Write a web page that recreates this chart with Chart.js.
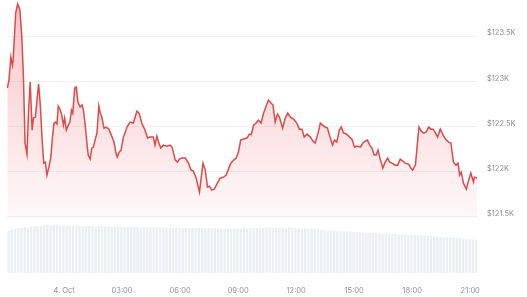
<!DOCTYPE html>
<html>
<head>
<meta charset="utf-8">
<script src="https://cdn.jsdelivr.net/npm/chart.js@4"></script>
<style>
  body { margin: 0; background: #fff; }
  #box { width: 527px; height: 297px; }
</style>
</head>
<body>
<div id="box"><canvas id="grafico"></canvas></div>
<script>
// minutos a partir de 4. Oct 00:00
const precoMinutos = [-176,-171,-165,-160,-158,-150,-144,-137,-131,-126,-121,-115,-110,-105,-99,-95,-89,-84,-79,-74,
  -68,-63,-58,-53,-47,-41,-36,-31,-26,-22,-18,-12,-7,-2,2,7,12,18,23,27,
  33,38,43,50,56,60,65,70,75,81,86,91,96,102,108,112,117,124,130,138,
  143,149,155,161,165,171,177,184,189,195,205,215,226,233,241,251,259,267,277,282,
  288,293,300,308,319,329,335,345,352,358,365,376,386,394,401,410,420,431,438,445,
  451,458,466,474,484,495,503,510,517,526,534,541,548,557,567,575,581,588,596,603,
  611,619,626,634,642,648,655,662,668,678,686,694,702,712,722,730,738,745,754,764,
  772,779,788,795,802,810,817,826,833,839,846,854,860,867,875,886,893,901,908,919,
  927,934,941,948,955,962,968,974,979,989,996,1004,1010,1017,1027,1035,1043,1051,1058,1069,
  1074,1081,1090,1095,1101,1108,1115,1123,1131,1138,1145,1152,1159,1167,1176,1183,1193,1200,1208,1216,
  1222,1227,1232,1239,1248,1255,1262,1270,1273,1281];

const precos = [122925,123013,123268,123179,123235,123754,123854,123788,123489,123047,122317,122195,122682,122991,122460,122593,122604,122792,122969,122759,
  122350,122095,122106,121963,122051,122162,122383,122538,122549,122527,122726,122682,122626,122516,122593,122460,122505,122549,122682,122648,
  122925,122936,122770,122715,122737,122682,122538,122350,122184,122140,122261,122272,122350,122427,122726,122648,122604,122482,122490,122478,
  122438,122383,122328,122206,122162,122217,122239,122383,122427,122494,122549,122538,122670,122648,122538,122460,122372,122383,122383,122294,
  122394,122328,122261,122294,122283,122294,122272,122129,122106,122140,122151,122151,122095,122018,122007,121929,121775,122095,122018,121830,
  121841,121797,121808,121863,121929,121940,121963,122029,122095,122129,122151,122217,122350,122361,122372,122416,122410,122516,122538,122571,
  122538,122648,122715,122792,122759,122737,122549,122637,122604,122482,122593,122648,122604,122582,122538,122471,122471,122383,122416,122383,
  122339,122317,122427,122538,122516,122494,122482,122372,122294,122350,122328,122460,122494,122427,122420,122383,122361,122272,122283,122272,
  122317,122339,122350,122294,122261,122184,122184,122239,122162,122040,122106,122151,122106,122095,122073,122073,122140,122118,122095,122084,
  122051,122018,122073,122272,122494,122449,122427,122438,122494,122471,122471,122427,122383,122471,122405,122361,122328,122317,122106,122073,
  122095,121963,121996,121874,121808,121907,121985,121885,121940,121929];

// volume a cada 10 minutos, começando em 21:08 do dia anterior
const volumeInicio = -172;
const volumePasso = 10;
const volumes = [42,43,44,45,45.5,46,46,46.5,47,47,
  47,47.5,48,47.5,48,48,47.5,47.5,47,47.5,
  47,47.5,47,47,46.5,47,47,46.5,47,46.5,
  46.5,46.5,46,46.5,46.5,46,46,46.5,46,46,
  46,45.5,46,46,45.5,45.5,46,45.5,45.5,45.5,
  45.5,45,45.5,45.5,45,45,45.5,45,45,45,
  45,44.5,45,44.5,44.5,45,44.5,44.5,44.5,44.5,
  44.5,44.5,44.5,45,44.5,45,45,45,45.5,45,
  45.5,45.5,45,45.5,45.5,45.5,45,45.5,45.5,45,
  45,44.5,44.5,44,44,43.5,43.5,43,43,42.5,
  42.5,42.5,42,42,41.5,41.5,41.5,41,41,41,
  40.5,40.5,40,40,40,39.5,39.5,39.5,39,39,
  39,38.5,38.5,38.5,38,38,38,38,37.5,37.5,
  37.5,37,37,36.5,36.5,36,36,35.5,35.5,35,
  35,34.5,34,34,33.5,33];

const ticksPreco = [121500, 122000, 122500, 123000, 123500];
const ticksHora = [0, 180, 360, 540, 720, 900, 1080, 1260];

const pontosPreco = precoMinutos.map((m, i) => ({ x: m, y: precos[i] }));
const pontosVolume = volumes.map((v, i) => ({ x: volumeInicio + i * volumePasso, y: v }));

function formataHora(m) {
  if (m === 0) return '4. Oct';
  const h = Math.floor(m / 60);
  return String(h).padStart(2, '0') + ':00';
}

function gradiente(ctx) {
  const chart = ctx.chart;
  const area = chart.chartArea;
  if (!area) return 'rgba(234,57,67,0.1)';
  const base = chart.scales.y.getPixelForValue(121500);
  const g = chart.ctx.createLinearGradient(0, area.top, 0, base);
  g.addColorStop(0, 'rgba(234,57,67,0.30)');
  g.addColorStop(1, 'rgba(234,57,67,0.03)');
  return g;
}

// tira o espaço extra que o Chart.js reserva para os rótulos
function semPadding(s) {
  s.paddingLeft = 0;
  s.paddingRight = 0;
  s.paddingTop = 0;
  s.paddingBottom = 0;
}

new Chart(document.getElementById('grafico'), {
  data: {
    datasets: [{
      type: 'line',
      data: pontosPreco,
      borderColor: '#de4a4a',
      borderWidth: 1.5,
      pointRadius: 0,
      tension: 0,
      fill: { value: 121500 },
      backgroundColor: gradiente,
      yAxisID: 'y',
      order: 1
    }, {
      type: 'bar',
      data: pontosVolume,
      backgroundColor: '#eaeff4',
      barPercentage: 0.72,
      categoryPercentage: 1,
      yAxisID: 'yVol',
      order: 2
    }]
  },
  options: {
    responsive: true,
    maintainAspectRatio: false,
    animation: false,
    layout: { padding: { left: 7, top: 0, right: 0, bottom: 0 } },
    plugins: { legend: { display: false }, tooltip: { enabled: false } },
    scales: {
      x: {
        type: 'linear',
        offset: false,
        min: -177,
        max: 1281,
        grid: { display: false },
        border: { display: false },
        afterBuildTicks: s => { s.ticks = ticksHora.map(v => ({ value: v })); },
        afterFit: s => { s.height = 24; semPadding(s); },
        ticks: {
          padding: 5,
          maxRotation: 0,
          autoSkip: false,
          color: '#8c9098',
          font: { family: 'Inter', size: 7.5 },
          callback: v => formataHora(v)
        }
      },
      y: {
        position: 'right',
        min: 120881,
        max: 123898,
        afterBuildTicks: s => { s.ticks = ticksPreco.map(v => ({ value: v })); },
        afterFit: s => { s.width = 50; semPadding(s); },
        grid: { color: '#f1f1f1', drawTicks: false },
        border: { display: false },
        ticks: {
          padding: 10,
          labelOffset: -3,
          color: '#8c9098',
          font: { family: 'Inter', size: 7.5 },
          callback: v => '$' + (v / 1000) + 'K'
        }
      },
      yVol: {
        display: false,
        min: 0,
        max: 273
      }
    }
  }
});
</script>
</body>
</html>
